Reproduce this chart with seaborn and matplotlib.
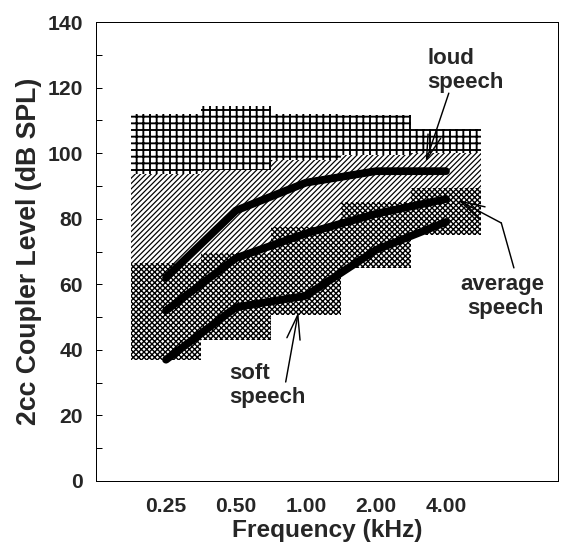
import numpy as np
import pandas as pd
import matplotlib
matplotlib.use("Agg")
import matplotlib.pyplot as plt
import seaborn as sns

# Octave-band centre frequencies (kHz) and their plotting positions
freq_labels = ["0.25", "0.50", "1.00", "2.00", "4.00"]
band_pos = [1, 2, 3, 4, 5]

# Long-term speech spectra (dB SPL in a 2cc coupler)
soft_speech = [37, 53, 56.5, 70.5, 79]
average_speech = [52, 68, 75.5, 81.5, 86]
loud_speech = [62, 82.5, 91, 94.5, 94.5]

# Octave-band level ranges (dB SPL): edges of the shaded regions
soft_low = [37, 43, 50.5, 65, 75]
soft_high = [66.5, 69.5, 77.5, 85, 89.5]
average_high = [93.5, 95, 98, 99.5, 100]
loud_high = [112, 114.5, 112, 111.5, 107.5]

y_ticks = [0, 20, 40, 60, 80, 100, 120, 140]

sns.set_theme(style="ticks")
plt.rcParams["font.family"] = ["Liberation Sans", "DejaVu Sans"]
plt.rcParams["font.weight"] = "bold"
plt.rcParams["axes.labelweight"] = "bold"
plt.rcParams["hatch.color"] = "black"

DPI = 80
fig = plt.figure(figsize=(567 / DPI, 548 / DPI), dpi=DPI, facecolor="white")
ax = fig.add_axes([96 / 567, 1 - 481 / 548, (558 - 96) / 567, (481 - 22) / 548])
ax.set_facecolor("white")


def band(lo, hi, hatch, hlw):
    lo = np.asarray(lo, float)
    hi = np.asarray(hi, float)
    with plt.rc_context({"hatch.linewidth": hlw}):
        bars = ax.bar(band_pos, hi - lo, bottom=lo, width=1.0, color="white",
                      edgecolor="black", linewidth=0, hatch=hatch, zorder=1)
        for b in bars:
            if hasattr(b, "set_hatch_linewidth"):
                b.set_hatch_linewidth(hlw)
    return bars


band(soft_low, soft_high, "xxxxx", 1.25)
band(soft_high, average_high, "/////", 1.1)
band(average_high, loud_high, "++", 1.7)

df = pd.DataFrame({
    "pos": band_pos * 3,
    "level": soft_speech + average_speech + loud_speech,
    "effort": ["soft"] * 5 + ["average"] * 5 + ["loud"] * 5,
})
sns.lineplot(data=df, x="pos", y="level", hue="effort",
             palette=["black", "black", "black"], linewidth=7,
             legend=False, sort=False, ax=ax, zorder=3,
             solid_capstyle="round", solid_joinstyle="round")

# Labels with leader arrows
txt_kw = dict(fontsize=20, fontweight="bold", va="baseline", zorder=5)
arrow_kw = dict(arrowstyle="->,head_length=2.2,head_width=0.6",
                color="black", lw=1.3, mutation_scale=10,
                shrinkA=0, shrinkB=0)

ax.text(4.73, 119.9, "loud\nspeech", ha="left", multialignment="left", **txt_kw)
ax.annotate("", xy=(4.71, 97.3), xytext=(5.04, 118.3), arrowprops=arrow_kw, zorder=5)

ax.text(6.4, 50.9, "average\nspeech", ha="right", multialignment="right", **txt_kw)
ax.annotate("", xy=(5.79, 78.7), xytext=(5.97, 65.0),
            arrowprops=dict(arrowstyle="-", color="black", lw=1.3,
                            shrinkA=0, shrinkB=0), zorder=5)
ax.annotate("", xy=(5.17, 85.7), xytext=(5.79, 78.7), arrowprops=arrow_kw, zorder=5)

ax.text(1.9, 23.8, "soft\nspeech", ha="left", multialignment="left", **txt_kw)
ax.annotate("", xy=(2.89, 51.5), xytext=(2.71, 30.2), arrowprops=arrow_kw, zorder=5)

# Axes
ax.set_xlim(0, 6.6)
ax.set_ylim(0, 140)
ax.set_xticks(band_pos)
ax.set_xticklabels(freq_labels)
ax.set_yticks(y_ticks)
ax.set_yticks(np.arange(10, 140, 20), minor=True)
ax.tick_params(axis="y", which="both", direction="in", length=5, width=0.9,
               labelsize=19, pad=11.5, right=False, color="black")
ax.tick_params(axis="x", which="both", length=0, labelsize=19, pad=14)
for lab in ax.get_xticklabels() + ax.get_yticklabels():
    lab.set_fontweight("bold")
for side in ["left", "right", "top", "bottom"]:
    ax.spines[side].set_visible(True)
    ax.spines[side].set_linewidth(0.9)
    ax.spines[side].set_color("black")

ax.set_xlabel("Frequency (kHz)", fontsize=22, fontweight="bold", labelpad=3)
ax.set_ylabel("2cc Coupler Level (dB SPL)", fontsize=24, fontweight="bold", labelpad=5)

fig.savefig("out.png", dpi=DPI, facecolor="white")
